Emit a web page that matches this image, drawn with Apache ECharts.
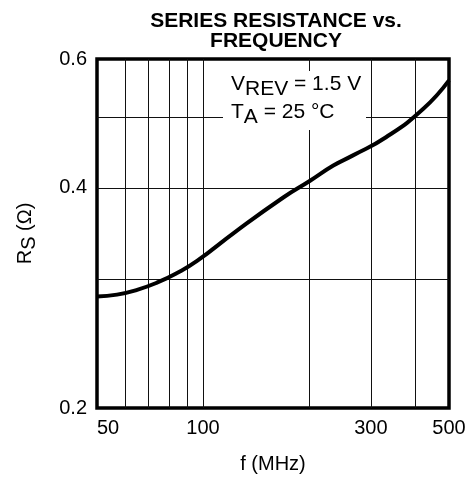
<!DOCTYPE html>
<html>
<head>
<meta charset="utf-8">
<script src="https://cdn.jsdelivr.net/npm/echarts@6/dist/echarts.min.js"></script>
<style>
html,body{margin:0;padding:0;background:#fff;}
#c{width:472px;height:479px;}
</style>
</head>
<body>
<div id="c"></div>
<script>
// Data (log f axis 50–500 MHz, log Rs axis 0.2–0.6 Ω)
const freqMHz = [50, 57.0, 65.0, 74.0, 84.4, 96.2, 123.3, 169.1, 201.5, 234.6, 266.8, 331.1, 422.7, 500];
const rsOhm   = [0.284, 0.2858, 0.2901, 0.2967, 0.3059, 0.3178, 0.348, 0.388, 0.409, 0.429, 0.443, 0.469, 0.513, 0.561];
const xTickLabels = [50, 100, 300, 500];
const yTickLabels = [0.2, 0.4, 0.6];
const xGridValues = [60, 70, 80, 90, 100, 200, 300, 400];
const yGridValues = [0.3, 0.4, 0.5];

const FONT = '"Liberation Sans", Arial, Helvetica, sans-serif';
const chart = echarts.init(document.getElementById('c'), null, {renderer: 'canvas'});

const gridMarks = xGridValues.map(v => ({xAxis: v})).concat(yGridValues.map(v => ({yAxis: v})));

chart.setOption({
  animation: false,
  backgroundColor: '#fff',
  title: {
    text: 'SERIES RESISTANCE vs.\nFREQUENCY',
    left: 271,
    top: 6,
    textAlign: 'center',
    textStyle: {fontFamily: FONT, fontSize: 21, fontWeight: 'bold', color: '#000', lineHeight: 20}
  },
  grid: {left: 97, right: 23, top: 59, bottom: 67, show: true, borderColor: '#000', borderWidth: 3.5, backgroundColor: 'transparent'},
  xAxis: {
    type: 'log', logBase: 10, min: 50, max: 500,
    name: 'f (MHz)', nameLocation: 'middle', nameGap: 46,
    nameTextStyle: {fontFamily: FONT, fontSize: 20, color: '#000'},
    axisLine: {show: false}, axisTick: {show: false}, splitLine: {show: false},
    axisLabel: {
      customValues: xTickLabels, margin: 10, alignMinLabel: 'left',
      fontFamily: FONT, fontSize: 20, color: '#000',
      formatter: v => String(Math.round(v))
    }
  },
  yAxis: {
    type: 'log', logBase: 10, min: 0.2, max: 0.6,
    name: '{a|R}{s|S}{a| (Ω)}', nameLocation: 'middle', nameGap: 60,
    nameTextStyle: {
      fontFamily: FONT, fontSize: 20, color: '#000',
      rich: {
        a: {fontFamily: FONT, fontSize: 20, color: '#000', verticalAlign: 'top', lineHeight: 22},
        s: {fontFamily: FONT, fontSize: 20, color: '#000', verticalAlign: 'top', lineHeight: 22, padding: [4, 0, 0, 0]}
      }
    },
    axisLine: {show: false}, axisTick: {show: false}, splitLine: {show: false},
    axisLabel: {
      customValues: yTickLabels, margin: 10, padding: [0, 0, 6, 0],
      fontFamily: FONT, fontSize: 20, color: '#000',
      formatter: v => Number(v).toFixed(1)
    }
  },
  series: [
    {
      type: 'line', data: [], z: 1, silent: true,
      markLine: {
        silent: true, symbol: 'none', animation: false,
        label: {show: false},
        lineStyle: {type: 'solid', color: '#111', width: 1},
        emphasis: {disabled: true},
        data: gridMarks
      }
    },
    {
      type: 'line', z: 5, smooth: 0.5, symbol: 'none',
      lineStyle: {color: '#000', width: 4},
      data: freqMHz.map((f, i) => [f, rsOhm[i]])
    }
  ],
  graphic: [
    {type: 'rect', z: 50, shape: {x: 223, y: 71, width: 143, height: 59}, style: {fill: '#fff'}},
    {
      type: 'text', z: 51, left: 231, top: 74,
      style: {
        text: '{a|V}{s|REV}{a| = 1.5 V}',
        rich: {
          a: {fontFamily: FONT, fontSize: 21, fill: '#000', verticalAlign: 'top', lineHeight: 22},
          s: {fontFamily: FONT, fontSize: 21, fill: '#000', verticalAlign: 'top', lineHeight: 22, padding: [5, 0, 0, 0]}
        }
      }
    },
    {
      type: 'text', z: 51, left: 231, top: 102,
      style: {
        text: '{a|T}{s|A}{a| = 25 °C}',
        rich: {
          a: {fontFamily: FONT, fontSize: 21, fill: '#000', verticalAlign: 'top', lineHeight: 22},
          s: {fontFamily: FONT, fontSize: 21, fill: '#000', verticalAlign: 'top', lineHeight: 22, padding: [5, 0, 0, 0]}
        }
      }
    }
  ]
});
</script>
</body>
</html>
